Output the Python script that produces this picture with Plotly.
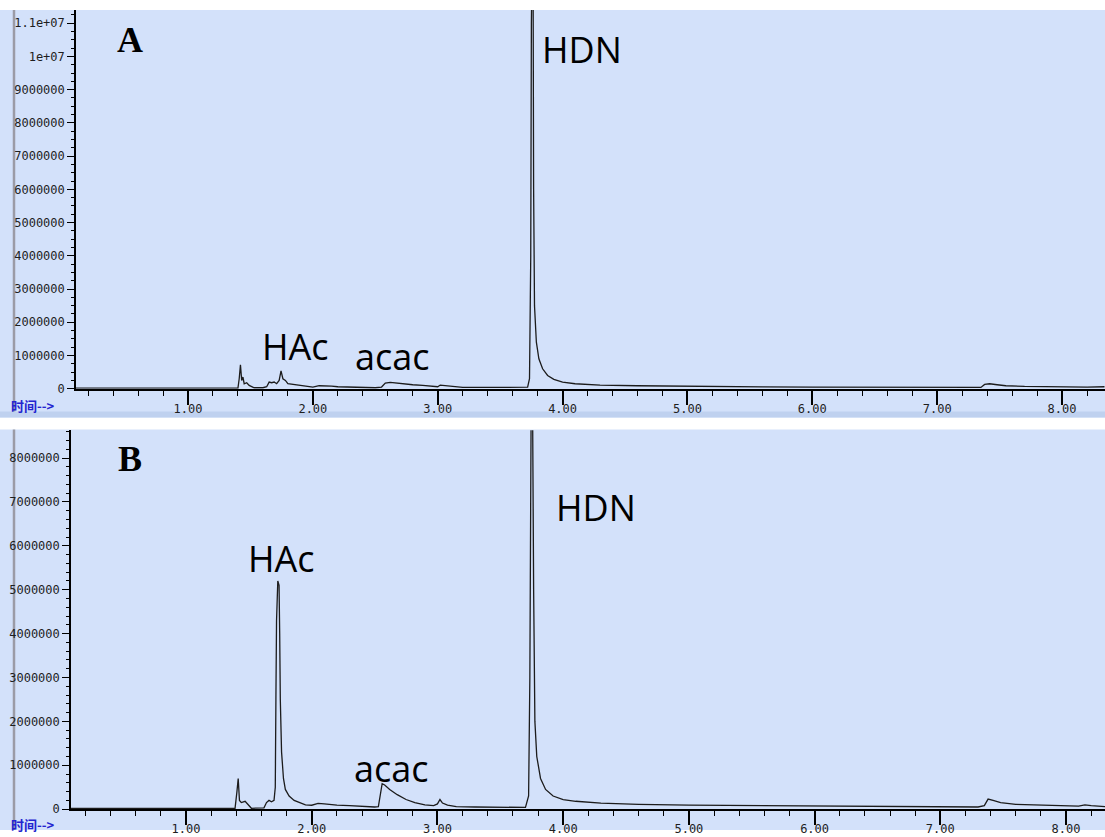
import plotly.graph_objects as go

W, H = 1105, 837

# ---- chromatogram A: retention time (min) and abundance ----
time_a = [0.10, 1.40, 1.41, 1.42, 1.43, 1.44, 1.45, 1.47, 1.49, 1.51, 1.53, 1.60, 1.63, 1.65,
          1.67, 1.69, 1.71, 1.73, 1.745, 1.76, 1.78, 1.80, 1.85, 1.90, 1.95, 2.00, 2.05, 2.10,
          2.15, 2.20, 2.30, 2.40, 2.50, 2.55, 2.58, 2.62, 2.66, 2.72, 2.80, 2.88, 2.95, 3.00,
          3.02, 3.05, 3.10, 3.20, 3.40, 3.60, 3.72, 3.735, 3.745, 3.75, 3.755, 3.762, 3.768,
          3.775, 3.79, 3.81, 3.84, 3.88, 3.93, 4.00, 4.10, 4.30, 4.60, 5.00, 5.10, 5.20, 5.60,
          6.00, 6.50, 7.00, 7.35, 7.38, 7.42, 7.48, 7.55, 7.70, 7.90, 8.00, 8.10, 8.20, 8.34]
abund_a = [20000, 20000, 300000, 720000, 250000, 350000, 150000, 180000, 100000, 60000, 30000,
           30000, 60000, 200000, 180000, 200000, 150000, 250000, 540000, 300000, 250000, 150000,
           120000, 110000, 60000, 50000, 90000, 90000, 80000, 60000, 50000, 30000, 30000, 50000,
           170000, 190000, 170000, 140000, 120000, 100000, 80000, 60000, 110000, 100000, 70000,
           40000, 40000, 40000, 45000, 300000, 4000000, 11000000, 14000000, 15000000, 6000000,
           2500000, 1400000, 900000, 600000, 400000, 280000, 200000, 150000, 110000, 90000,
           70000, 80000, 60000, 55000, 50000, 45000, 40000, 40000, 130000, 150000, 120000, 90000,
           70000, 60000, 50000, 60000, 50000, 60000]

# ---- chromatogram B ----
time_b = [0.085, 1.39, 1.405, 1.415, 1.425, 1.44, 1.47, 1.50, 1.52, 1.62, 1.64, 1.66, 1.68, 1.70,
          1.71, 1.715, 1.72, 1.73, 1.74, 1.745, 1.75, 1.76, 1.775, 1.79, 1.82, 1.86, 1.90, 1.95,
          2.00, 2.05, 2.10, 2.20, 2.30, 2.40, 2.50, 2.53, 2.545, 2.56, 2.58, 2.62, 2.68, 2.75,
          2.82, 2.90, 2.97, 3.00, 3.02, 3.04, 3.08, 3.15, 3.30, 3.50, 3.70, 3.725, 3.735, 3.745,
          3.755, 3.765, 3.775, 3.79, 3.82, 3.86, 3.92, 4.00, 4.10, 4.30, 4.60, 5.00, 5.50, 6.00,
          6.50, 7.00, 7.30, 7.35, 7.38, 7.42, 7.48, 7.60, 7.80, 7.95, 8.00, 8.10, 8.15, 8.20, 8.31]
abund_b = [20000, 20000, 400000, 700000, 200000, 150000, 180000, 80000, 20000, 30000, 150000,
           200000, 170000, 200000, 500000, 2500000, 4300000, 5200000, 5100000, 4000000, 2500000,
           1300000, 700000, 450000, 300000, 200000, 150000, 100000, 90000, 130000, 120000, 90000,
           80000, 60000, 50000, 60000, 350000, 580000, 550000, 450000, 330000, 220000, 150000,
           100000, 80000, 120000, 220000, 140000, 90000, 60000, 50000, 40000, 40000, 300000,
           3000000, 9000000, 10000000, 5000000, 2000000, 1200000, 700000, 450000, 300000, 220000,
           180000, 140000, 110000, 90000, 80000, 70000, 60000, 50000, 50000, 80000, 230000,
           200000, 150000, 110000, 90000, 70000, 80000, 70000, 100000, 80000, 60000]

# ---- axis ticks ----
x_ticks = [1, 2, 3, 4, 5, 6, 7, 8]
x_tick_text = ["1.00", "2.00", "3.00", "4.00", "5.00", "6.00", "7.00", "8.00"]
y_ticks_a = [0, 1e6, 2e6, 3e6, 4e6, 5e6, 6e6, 7e6, 8e6, 9e6, 1e7, 1.1e7]
y_text_a = ["0", "1000000", "2000000", "3000000", "4000000", "5000000", "6000000",
            "7000000", "8000000", "9000000", "1e+07", "1.1e+07"]
y_ticks_b = [0, 1e6, 2e6, 3e6, 4e6, 5e6, 6e6, 7e6, 8e6]
y_text_b = ["0", "1000000", "2000000", "3000000", "4000000", "5000000", "6000000",
            "7000000", "8000000"]

BG = "#d3e1fa"
BAND = "#bfd1ef"
LINE = "#1c1c1c"
TICKFONT = dict(family="DejaVu Sans Mono", size=12, color="#1e1e1e")


def xp(px):
    return px / W


def yp(py):
    return 1 - py / H


fig = go.Figure()
fig.add_trace(go.Scatter(x=time_a, y=abund_a, mode="lines", xaxis="x", yaxis="y",
                         line=dict(color=LINE, width=1.3), showlegend=False))
fig.add_trace(go.Scatter(x=time_b, y=abund_b, mode="lines", xaxis="x2", yaxis="y2",
                         line=dict(color=LINE, width=1.3), showlegend=False))

xcommon = dict(showline=True, linecolor="black", linewidth=1.6, showgrid=False, zeroline=False,
               tickvals=x_ticks, ticktext=x_tick_text, ticks="outside", ticklen=14,
               tickcolor="black", tickwidth=1.5, tickfont=TICKFONT, ticklabelstandoff=-6,
               minor=dict(ticks="outside", ticklen=5, tick0=0, dtick=0.2,
                          tickcolor="black", tickwidth=1.3))
ycommon = dict(showline=True, linecolor="black", linewidth=1.6, showgrid=False, zeroline=False,
               ticks="outside", ticklen=7, tickcolor="black", tickwidth=1.2, tickfont=TICKFONT,
               ticklabelstandoff=0)

fig.update_layout(
    width=W, height=H, margin=dict(l=0, r=0, t=0, b=0),
    paper_bgcolor="white", plot_bgcolor="rgba(0,0,0,0)",
    xaxis=dict(domain=[xp(76), 1], range=[0.103, 8.344], anchor="y", **xcommon),
    yaxis=dict(domain=[yp(392), yp(10)], range=[0, 11.40e6], anchor="x",
               tickvals=y_ticks_a, ticktext=y_text_a,
               minor=dict(ticks="outside", ticklen=3, tick0=0, dtick=250000,
                          tickcolor="black", tickwidth=1), **ycommon),
    xaxis2=dict(domain=[xp(71), 1], range=[0.085, 8.31], anchor="y2", **xcommon),
    yaxis2=dict(domain=[yp(816), yp(434)], range=[0, 8.63e6], anchor="x2",
                tickvals=y_ticks_b, ticktext=y_text_b,
                minor=dict(ticks="outside", ticklen=3, tick0=0, dtick=200000,
                           tickcolor="black", tickwidth=1), **ycommon),
)

shapes = [
    # panel backgrounds
    dict(type="rect", xref="paper", yref="paper", x0=0, x1=1, y0=yp(421), y1=yp(10),
         fillcolor=BG, line=dict(width=0), layer="below"),
    dict(type="rect", xref="paper", yref="paper", x0=0, x1=1, y0=yp(421), y1=yp(415),
         fillcolor=BAND, line=dict(width=0), layer="below"),
    dict(type="rect", xref="paper", yref="paper", x0=0, x1=1, y0=0, y1=yp(433),
         fillcolor=BG, line=dict(width=0), layer="below"),
    # grey left rules
    dict(type="line", xref="paper", yref="paper", x0=xp(14), x1=xp(14), y0=yp(415), y1=yp(10),
         line=dict(color="#9b9ba6", width=2.5), layer="below"),
    dict(type="line", xref="paper", yref="paper", x0=xp(14), x1=xp(14), y0=0, y1=yp(433),
         line=dict(color="#9b9ba6", width=2.5), layer="below"),
]
fig.update_layout(shapes=shapes)

LABEL = dict(family="Open Sans", size=36, color="black")
PANEL = dict(family="Liberation Serif", size=36, color="black")
TIME = dict(family="Noto Sans CJK SC", size=13, color="#2424d0")

annots = [
    ("A", 130, 40, PANEL), ("B", 130, 463, PANEL),
    ("HDN", 582, 50, LABEL), ("HAc", 295, 349, LABEL), ("acac", 392, 360, LABEL),
    ("HDN", 596, 512, LABEL), ("HAc", 281, 563, LABEL), ("acac", 391, 775, LABEL),
]
for text, cx, cy, font in annots:
    if font is PANEL:
        text = "<b>" + text + "</b>"
    fig.add_annotation(x=xp(cx), y=yp(cy), xref="paper", yref="paper", text=text,
                       showarrow=False, xanchor="center", yanchor="middle", font=font)

for cy in (409, 831):
    fig.add_annotation(x=xp(10), y=yp(cy), xref="paper", yref="paper", text="<b>时间--></b>",
                       showarrow=False, xanchor="left", yanchor="middle", font=TIME,
                       borderpad=0)

fig.write_html("out.html")
